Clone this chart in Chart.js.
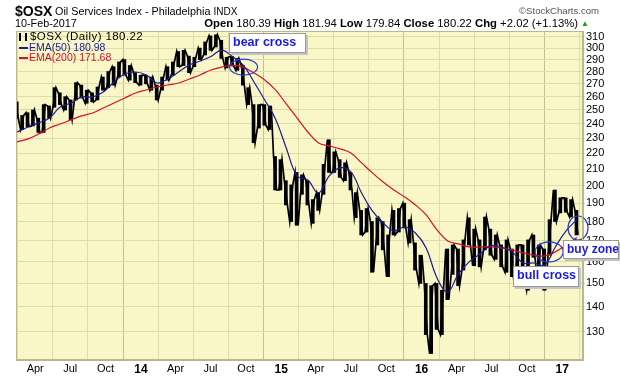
<!DOCTYPE html>
<html>
<head>
<meta charset="utf-8">
<script src="https://cdn.jsdelivr.net/npm/chart.js@4.4.1/dist/chart.umd.min.js"></script>
<style>
  body { margin: 0; background: #fff; font-family: "Liberation Sans", Arial, sans-serif; }
  #wrap { position: relative; width: 620px; height: 376px; overflow: hidden; }
  #c { position: absolute; left: 0; top: 0; }
  .t { position: absolute; white-space: nowrap; color: #000; }
  .lg { position: absolute; left: 19px; font-size: 10.5px; white-space: nowrap; line-height: 11px; }
  .dash { display: inline-block; width: 9px; height: 2px; vertical-align: middle; margin-right: 1px; }
  .note { position: absolute; background: #fff; border: 1px solid #9a9a9a; box-shadow: 2px 2px 0 #c4c4c4; white-space: nowrap;
          color: #1a1ae6; font-weight: bold; font-size: 12.5px; line-height: 17px; padding-left: 3px; box-sizing: border-box; }
</style>
</head>
<body>
<div id="wrap">
  <canvas id="c" width="620" height="376"></canvas>

  <div class="t" style="left:15px;top:3px;font-size:14px;font-weight:bold;">$OSX</div>
  <div class="t" style="left:55px;top:5px;font-size:10.8px;">Oil Services Index - Philadelphia <span style="font-size:10px">INDX</span></div>
  <div class="t" style="left:519px;top:5px;font-size:9.6px;color:#555;">&copy;StockCharts.com</div>
  <div class="t" style="left:15px;top:17px;font-size:10.8px;">10-Feb-2017</div>
  <div class="t" style="right:42px;top:17px;font-size:11.3px;"><b>Open</b> 180.39 <b>High</b> 181.94 <b>Low</b> 179.84 <b>Close</b> 180.22 <b>Chg</b> +2.02 (+1.13%)</div>
  <div class="t" style="left:581px;top:19px;font-size:8px;color:#1a9a1a;">&#9650;</div>

  <div class="lg" style="top:31px;font-size:11.5px;letter-spacing:0.4px;"><span style="display:inline-block;width:4px;height:8px;border-left:2px solid #000;border-right:2px solid #000;margin-right:3px;vertical-align:middle"></span>$OSX (Daily) 180.22</div>
  <div class="lg" style="top:42px;color:#1a1a9a;"><span class="dash" style="background:#1a1a9a"></span>EMA(50) 180.98</div>
  <div class="lg" style="top:52px;color:#d8102c;"><span class="dash" style="background:#d8102c"></span>EMA(200) 171.68</div>

  <div class="note" style="left:229px;top:33px;width:77px;height:20px;">bear cross</div>
  <div class="note" style="left:513px;top:266px;width:66px;height:21px;">bull cross</div>
  <div class="note" style="left:563px;top:240px;width:56px;height:19px;font-size:12px;">buy zone</div>
</div>

<script>
Chart.defaults.font.family = '"Liberation Sans", Arial, sans-serif';
Chart.defaults.font.size = 11;
Chart.defaults.color = '#000';

const DAY = 864e5;
function day(y, m, d) { return Date.UTC(y, m - 1, d) / DAY; }

// price bars, one every two weeks starting 12-Feb-2013
const barStart = day(2013, 2, 12);
const barStep = 14;
const barHigh = [256, 246, 248, 250, 244, 254, 253, 267, 263, 260, 257.5, 271, 269, 265, 263, 267.5, 275.5, 280, 284, 288,
  290, 285, 279, 277, 277, 275.5, 269, 275.5, 284, 288, 297, 298, 293, 292, 300, 305.5, 311, 312, 307, 292,
  292.6, 291, 285, 267, 254, 254, 254, 253, 218, 216, 203, 200.5, 208, 206.5, 203, 192, 196, 213, 229, 221,
  216, 214, 208, 196, 186, 187, 180, 182, 180, 173, 186, 187, 190, 181, 169, 163, 150, 149, 150, 147,
  166, 168, 166, 170.5, 182, 176, 170.5, 182.4, 176, 173, 168, 170.5, 166, 168, 168, 170.5, 173, 168, 166, 181,
  197.5, 193, 193, 192, 186];
const barLow = [244, 236, 238, 238.5, 234, 234, 244, 252, 254, 250, 243, 257.5, 259, 255, 256, 257.5, 265, 267, 269, 275.5,
  277, 273, 271, 269, 270, 265, 257.5, 265, 273, 277, 284, 285, 279, 284, 290, 294, 298, 301, 291, 283,
  284.6, 281, 269, 254, 227, 237, 239, 236, 197.5, 197.5, 189, 180, 178, 195, 189, 179, 186, 195, 208, 208,
  205, 203, 197.5, 182, 173, 174.5, 155, 168, 165.6, 153, 173, 174.5, 176.6, 169, 156, 150, 129, 122, 131, 129,
  143, 154, 149, 156, 168, 158, 157.5, 165.6, 163, 161, 157.5, 155, 153, 156, 151.6, 147, 162, 151.6, 147, 163,
  180, 184.6, 185, 182.4, 173];

// moving averages, one value every four weeks starting 13-Feb-2013
const emaStart = day(2013, 2, 13);
const emaStep = 28;
const ema50 = [234.3, 237.8, 240.7, 244.2, 252.2, 255.2, 259.8, 259.8, 263.6, 271.5, 278, 279.6, 277.2, 270.7, 273.9,
  279.6, 285.4, 288.8, 292.6, 298.3, 292.6, 285.4, 271.5, 257.5, 243.5, 223.5, 205.9, 203.4, 195.8, 205.9,
  210.8, 208.3, 195.8, 185.7, 179.3, 175.1, 177.1, 174, 166.5, 152.5, 146.3, 154.3, 159.8, 163.6, 167.5,
  167, 164.5, 159.3, 159.3, 158.4, 167, 175.1, 181];
const ema200 = [227.6, 229.6, 233, 237.1, 239.9, 242.8, 245.7, 247.8, 251.5, 255.2, 259, 262.8, 265.2, 267.5, 269.1,
  270.7, 273.9, 277.2, 281.3, 283.7, 285.4, 283.7, 278.8, 273.1, 265.2, 254.5, 244.2, 234.3, 226.9, 224.9,
  222.9, 220.3, 213.9, 207.7, 202.2, 197.5, 193.5, 189, 183.5, 175.6, 170, 168.5, 167, 167, 167, 166.5,
  165.6, 164.1, 163.1, 162.6, 164.6, 168, 171.7];

const priceTicks = [130, 140, 150, 160, 170, 180, 190, 200, 210, 220, 230, 240, 250, 260, 270, 280, 290, 300, 310];
const monthNames = ['Jan', 'Feb', 'Mar', 'Apr', 'May', 'Jun', 'Jul', 'Aug', 'Sep', 'Oct', 'Nov', 'Dec'];

// circled spots: [date, price, rx, ry]
const circles = [
  [day(2014, 9, 25), 283.7, 14, 8],
  [day(2016, 11, 28), 164.6, 14, 10],
  [day(2017, 2, 11), 176.6, 10, 12]
];

const xMin = day(2013, 2, 10);
const xMax = day(2017, 2, 24);

const quarterTicks = [];
for (let y = 2013; y <= 2017; y++) {
  [1, 4, 7, 10].forEach(m => {
    const v = day(y, m, 1);
    if (v > xMin && v < xMax) quarterTicks.push(v);
  });
}
function isYear(v) { return new Date(v * DAY).getUTCMonth() === 0; }

const priceBars = barHigh.map((h, i) => ({ x: barStart + barStep * i, y: [barLow[i], h] }));
// trace that runs through each bar's high and low, so the bars read as one dense daily series
const priceTrace = [];
barHigh.forEach((h, i) => {
  const x = barStart + barStep * i;
  const a = i % 2 ? barLow[i] : h, b = i % 2 ? h : barLow[i];
  priceTrace.push({ x: x - 4, y: a }, { x: x + 4, y: b });
});
const ema50Pts = ema50.map((v, i) => ({ x: emaStart + emaStep * i, y: v }));
const ema200Pts = ema200.map((v, i) => ({ x: emaStart + emaStep * i, y: v }));

const plotFrame = {
  id: 'plotFrame',
  beforeDraw(chart) {
    const a = chart.chartArea, ctx = chart.ctx;
    ctx.save();
    ctx.fillStyle = '#f9f7c8';
    ctx.fillRect(a.left, a.top, a.right - a.left, a.bottom - a.top);
    ctx.restore();
  },
  afterDatasetsDraw(chart) {
    const a = chart.chartArea, ctx = chart.ctx;
    const xs = chart.scales.x, ys = chart.scales.y;
    ctx.save();
    ctx.strokeStyle = '#2a3ad8';
    ctx.lineWidth = 1.2;
    circles.forEach(c => {
      ctx.beginPath();
      ctx.ellipse(xs.getPixelForValue(c[0]), ys.getPixelForValue(c[1]), c[2], c[3], 0, 0, Math.PI * 2);
      ctx.stroke();
    });
    ctx.strokeStyle = '#b9b98a';
    ctx.lineWidth = 1;
    ctx.strokeRect(a.left + 0.5, a.top + 0.5, a.right - a.left - 1, a.bottom - a.top - 1);
    ctx.restore();
  }
};

new Chart(document.getElementById('c'), {
  type: 'bar',
  data: {
    datasets: [
      {
        type: 'line',
        label: 'EMA(200)',
        data: ema200Pts,
        borderColor: '#d8102c',
        borderWidth: 1.2,
        pointRadius: 0,
        tension: 0.4,
        order: 1
      },
      {
        type: 'line',
        label: 'EMA(50)',
        data: ema50Pts,
        borderColor: '#1a1a9a',
        borderWidth: 1.2,
        pointRadius: 0,
        tension: 0.4,
        order: 0
      },
      {
        type: 'line',
        label: '$OSX trace',
        data: priceTrace,
        borderColor: '#000',
        borderWidth: 1.7,
        pointRadius: 0,
        tension: 0,
        order: 2
      },
      {
        label: '$OSX',
        data: priceBars,
        backgroundColor: '#000',
        borderWidth: 0,
        barThickness: 3,
        grouped: false,
        order: 3
      }
    ]
  },
  options: {
    responsive: false,
    animation: false,
    layout: { padding: { top: 31, left: 16, right: 0, bottom: 0 } },
    plugins: {
      legend: { display: false },
      tooltip: { enabled: false }
    },
    scales: {
      x: {
        type: 'linear',
        min: xMin,
        max: xMax,
        offset: false,
        afterBuildTicks(scale) { scale.ticks = quarterTicks.map(v => ({ value: v })); },
        afterFit(scale) { scale.height = 16; },
        ticks: {
          padding: 2,
          maxRotation: 0,
          autoSkip: false,
          font: ctx => (ctx.tick && isYear(ctx.tick.value)) ? { size: 12, weight: 'bold' } : { size: 11 },
          callback: v => {
            const d = new Date(v * DAY);
            return d.getUTCMonth() === 0 ? String(d.getUTCFullYear()).slice(2) : monthNames[d.getUTCMonth()];
          }
        },
        grid: {
          drawTicks: false,
          color: ctx => (ctx.tick && isYear(ctx.tick.value)) ? '#bfc48e' : '#dcdda9'
        },
        border: { color: '#b9b98a' }
      },
      y: {
        type: 'logarithmic',
        position: 'right',
        min: 119.7,
        max: 315.5,
        afterBuildTicks(scale) { scale.ticks = priceTicks.map(v => ({ value: v })); },
        afterFit(scale) { scale.width = 37; },
        ticks: {
          padding: 1,
          font: { size: 11 },
          callback: v => String(v)
        },
        grid: {
          tickLength: 2,
          color: '#dcdda9'
        },
        border: { color: '#b9b98a' }
      }
    }
  },
  plugins: [plotFrame]
});
</script>
</body>
</html>
